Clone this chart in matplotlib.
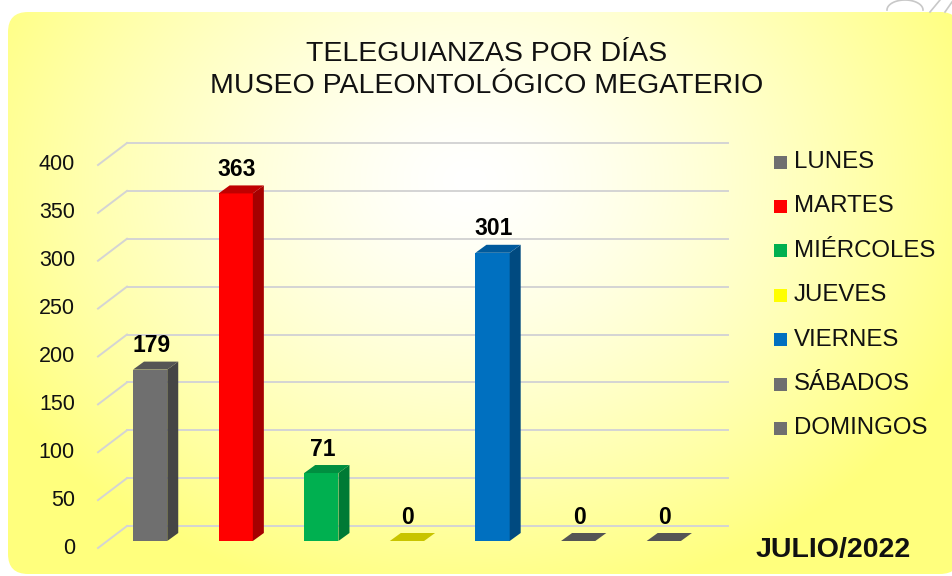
import numpy as np
import matplotlib
matplotlib.use("Agg")
import matplotlib.pyplot as plt
from matplotlib.patches import FancyBboxPatch, Rectangle
from matplotlib.transforms import offset_copy

# ---- data ----
days = ['LUNES', 'MARTES', 'MIÉRCOLES', 'JUEVES', 'VIERNES', 'SÁBADOS', 'DOMINGOS']
values = [179, 363, 71, 0, 301, 0, 0]
front_colors = ['#6f6f6f', '#ff0000', '#00b050', '#ffff00', '#0070c0', '#6f6f6f', '#6f6f6f']
side_colors = ['#454545', '#a50000', '#007a35', '#a8a400', '#004a80', '#454545', '#454545']
top_colors = ['#555555', '#c00000', '#008f40', '#c8c400', '#005a9c', '#555555', '#555555']
yticks = [0, 50, 100, 150, 200, 250, 300, 350, 400]
title = "TELEGUIANZAS POR DÍAS\nMUSEO PALEONTOLÓGICO MEGATERIO"
period = "JULIO/2022"

W, H = 952, 576
fig = plt.figure(figsize=(W / 100, H / 100), dpi=100)
fig.patch.set_facecolor('white')

# ---- background (rounded box with radial gradient) ----
bg = fig.add_axes([0, 0, 1, 1], zorder=0)
bg.set_xlim(0, W)
bg.set_ylim(H, 0)
bg.axis('off')
yy, xx = np.mgrid[0:H, 0:W]
cx, cy, rx, ry = 470, 180, 540, 430
d = np.sqrt(((xx - cx) / rx) ** 2 + ((yy - cy) / ry) ** 2)
t = np.clip(d, 0, 1) ** 1.4
img = np.ones((H, W, 3))
img[..., 2] = 1.0 - t * (1 - 125 / 255)
box = FancyBboxPatch((8 + 20, 12 + 20), 960 - 8 - 40, 574 - 12 - 40,
                     boxstyle="round,pad=20", transform=bg.transData,
                     facecolor='none', edgecolor='none')
bg.add_patch(box)
im = bg.imshow(img, extent=(0, W, H, 0), interpolation='bilinear')
im.set_clip_path(box)
# decorative grey curls at top right (outside the box)
th = np.linspace(0, np.pi, 40)
bg.plot(905 + 18 * np.cos(th), 10 - 10 * np.sin(th), color='#c8c8c8', lw=1.2)
bg.plot([930, 940], [12, 0], color='#c8c8c8', lw=1.2)
bg.plot([945, 952], [12, 2], color='#c8c8c8', lw=1.2)

# ---- chart axes ----
ax = fig.add_axes([127 / W, (H - 541) / H, (728 - 127) / W, 383 / H], zorder=2)
ax.set_xlim(-0.27, 6.75)
ax.set_ylim(0, 400)
ax.axis('off')
ax.patch.set_alpha(0)

# pixel -> data conversions
p0 = ax.transData.transform((0, 0))
p1 = ax.transData.transform((1, 1))
px_x = p1[0] - p0[0]
px_y = p1[1] - p0[1]
dep_x, dep_y = 11 / px_x, 8 / px_y      # bar depth
wall_dx, wall_dy = -29, -22              # wall to front diagonal (px)
back_up = 15                              # back wall above bar base (px)

grid_c = '#d4d4d4'
ytr = ax.get_yaxis_transform()
for v in yticks:
    back = offset_copy(ytr, fig=fig, x=0, y=back_up, units='dots')
    ax.plot([0, 1], [v, v], transform=back, color=grid_c, lw=1.4, zorder=1, clip_on=False)
    xb = wall_dx / ax.bbox.width
    ax.plot([0, xb], [v, v + wall_dy / px_y], transform=back, color=grid_c, lw=1.4,
            zorder=1, clip_on=False)
    lab = offset_copy(ytr, fig=fig, x=-52, y=back_up + wall_dy, units='dots')
    ax.text(0, v, str(v), transform=lab, ha='right', va='center', fontsize=15.5,
            family='Liberation Sans', color='#111111', clip_on=False)

w = 0.40
x = np.arange(len(days))
ax.bar(x, values, width=w, color=front_colors, zorder=3, linewidth=0)
for i, v in enumerate(values):
    l, r = x[i] - w / 2, x[i] + w / 2
    if v > 0:
        ax.fill([r, r + dep_x, r + dep_x, r], [0, dep_y, v + dep_y, v],
                color=side_colors[i], zorder=3, lw=0)
    ax.fill([l, r, r + dep_x, l + dep_x], [v, v, v + dep_y, v + dep_y],
            color=top_colors[i], zorder=4, lw=0)
    lt = offset_copy(ax.transData, fig=fig, x=1, y=24, units='dots')
    ax.text(x[i], v, str(v), transform=lt, ha='center', va='center', fontsize=16.5,
            fontweight='bold', family='Liberation Sans', color='black', zorder=5)

# ---- title ----
fig.text(487 / W, 1 - 70 / H, title, ha='center', va='center', fontsize=20.5,
         family='Liberation Sans', color='#111111', linespacing=1.3)

# ---- legend ----
row0, step = 162, 44.4
for i, name in enumerate(days):
    yc = row0 + i * step
    bg.add_patch(Rectangle((774, yc - 6.5), 13, 13, facecolor=front_colors[i],
                           edgecolor='none', zorder=3))
    bg.text(794, yc, name, ha='left', va='center', fontsize=17.3,
            family='Liberation Sans', color='#111111', zorder=3)

bg.text(833, 550, period, ha='center', va='center', fontsize=20.5,
        fontweight='bold', family='Liberation Sans', color='#111111', zorder=3)

fig.savefig('out.png', dpi=100, facecolor='white')
